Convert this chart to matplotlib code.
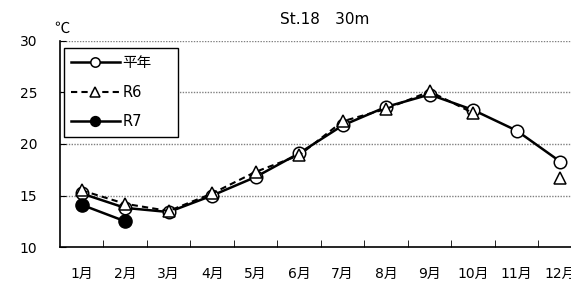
import matplotlib.pyplot as plt
import numpy as np

plt.rcParams['font.family'] = ['DejaVu Sans', 'Noto Sans CJK JP']

# 月別の水温データ
months = ['1月', '2月', '3月', '4月', '5月', '6月', '7月', '8月', '9月', '10月', '11月', '12月']
heinen = [15.2, 13.8, 13.4, 15.0, 16.8, 19.1, 21.8, 23.6, 24.8, 23.3, 21.3, 18.3]
r6 = [15.5, 14.2, 13.5, 15.2, 17.3, 18.9, 22.2, 23.4, 25.1, 23.0, np.nan, 16.7]
r7 = [14.1, 12.5]

x = np.arange(1, 13)

fig = plt.figure(figsize=(5.71, 2.84), dpi=100)
ax = fig.add_axes([0.105, 0.130, 0.914, 0.726])

ax.plot(x, heinen, color='black', lw=1.8, marker='o', markersize=9,
        markerfacecolor='white', markeredgecolor='black', markeredgewidth=1.1,
        label='平年', zorder=3)
ax.plot(x, r6, color='black', lw=1.5, ls=(0, (3, 2)), marker='^', markersize=9,
        markerfacecolor='white', markeredgecolor='black', markeredgewidth=1.1,
        label='R6', zorder=4)
ax.plot(x[:len(r7)], r7, color='black', lw=1.8, marker='o', markersize=9.5,
        markerfacecolor='black', label='R7', zorder=5)

ax.set_xlim(0.5, 12.5)
ax.set_ylim(10, 30)
ax.set_yticks([10, 15, 20, 25, 30])
ax.set_xticks(x)
ax.set_xticklabels(months)
ax.set_xticks(np.arange(1.5, 12, 1), minor=True)
ax.tick_params(axis='x', which='major', length=0, pad=14, labelsize=10)
ax.tick_params(axis='x', which='minor', direction='in', length=5)
ax.tick_params(axis='y', direction='in', length=4, pad=16.5, labelsize=10)

for v in [15, 20, 25, 30]:
    ax.axhline(v, color='gray', lw=1, ls=(0, (1, 1)), zorder=1)

ax.spines['top'].set_visible(False)
ax.spines['right'].set_visible(False)
ax.spines['left'].set_linewidth(1.2)
ax.spines['bottom'].set_linewidth(1.2)

ax.set_title('St.18\u300030m', fontsize=11, pad=12.5, x=0.508)
ax.text(0.004, 1.063, '℃', transform=ax.transAxes, fontsize=11, ha='center', va='center',
        family='Noto Sans CJK JP')

leg = ax.legend(loc='upper left', bbox_to_anchor=(0.008, 0.966, 0.218, 0.0), mode='expand',
                borderaxespad=0, fancybox=False, edgecolor='black', framealpha=1,
                fontsize=10.5, handlelength=3.3, handletextpad=0.2, labelspacing=1.0,
                borderpad=0.5, markerscale=0.75)
leg.get_frame().set_linewidth(1.0)

fig.savefig('out.png', dpi=100)
